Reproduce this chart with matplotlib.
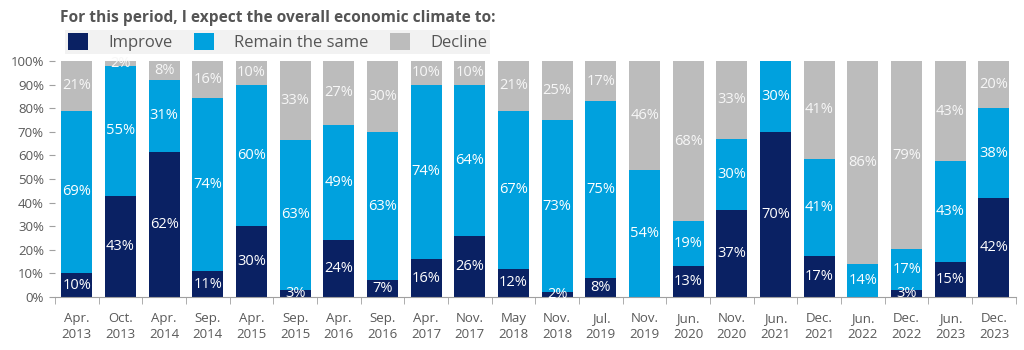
import numpy as np
import matplotlib.pyplot as plt
from matplotlib.patches import Patch

plt.rcParams['font.family'] = ['Open Sans', 'DejaVu Sans']

periods = ['Apr.\n2013', 'Oct.\n2013', 'Apr.\n2014', 'Sep.\n2014', 'Apr.\n2015', 'Sep.\n2015',
           'Apr.\n2016', 'Sep.\n2016', 'Apr.\n2017', 'Nov.\n2017', 'May\n2018', 'Nov.\n2018',
           'Jul.\n2019', 'Nov.\n2019', 'Jun.\n2020', 'Nov.\n2020', 'Jun.\n2021', 'Dec.\n2021',
           'Jun.\n2022', 'Dec.\n2022', 'Jun.\n2023', 'Dec.\n2023']
improve = [10, 43, 62, 11, 30, 3, 24, 7, 16, 26, 12, 2, 8, 0, 13, 37, 70, 17, 0, 3, 15, 42]
same = [69, 55, 31, 74, 60, 63, 49, 63, 74, 64, 67, 73, 75, 54, 19, 30, 30, 41, 14, 17, 43, 38]
decline = [21, 2, 8, 16, 10, 33, 27, 30, 10, 10, 21, 25, 17, 46, 68, 33, 0, 41, 86, 79, 43, 20]

series = [('Improve', improve, '#0a2163', 'white'),
          ('Remain the same', same, '#00a1de', 'white'),
          ('Decline', decline, '#bcbcbc', '#f7f7f7')]

# 100% stacked: scale each column so it sums to 100
totals = np.array(improve) + np.array(same) + np.array(decline)

fig = plt.figure(figsize=(10.24, 3.5), dpi=100)
ax = fig.add_axes([0.0537, 0.1514, 0.9383, 0.6743])

x = np.arange(len(periods))
bottom = np.zeros(len(periods))
for name, vals, col, tcol in series:
    h = np.array(vals) / totals * 100
    ax.bar(x, h, width=0.71, bottom=bottom, color=col, label=name)
    for xi, v, b, hh in zip(x, vals, bottom, h):
        if v > 0:
            ax.text(xi, b + hh / 2, f'{v}%', ha='center', va='center',
                    color=tcol, fontsize=10.5)
    bottom += h

ax.set_xlim(-0.5, len(periods) - 0.5)
ax.set_ylim(0, 100)
ax.set_yticks(range(0, 101, 10))
ax.set_yticklabels([f'{t}%' for t in range(0, 101, 10)], fontsize=9.5, color='#595959')
ax.set_xticks(x)
ax.set_xticklabels(periods, fontsize=9.5, color='#595959', linespacing=1.25)
ax.set_xticks(np.arange(-0.5, len(periods), 1), minor=True)
ax.tick_params(axis='x', which='major', length=0, pad=11)
ax.tick_params(axis='x', which='minor', length=5, color='#a0a0a0')
ax.tick_params(axis='y', length=4, color='#a0a0a0', pad=4)
for s in ['top', 'right', 'left']:
    ax.spines[s].set_visible(False)
ax.spines['bottom'].set_color('#a0a0a0')

fig.text(0.059, 0.95, 'For this period, I expect the overall economic climate to:',
         fontsize=11.2, fontweight='bold', color='#555555', va='center')

handles = [Patch(facecolor=c, label=n) for n, _, c, _ in series]
leg = fig.legend(handles=handles, loc='center left', bbox_to_anchor=(0.055, 0.88),
                 ncol=3, frameon=True, fontsize=12, handlelength=1.2, handleheight=1.2,
                 columnspacing=1.3, handletextpad=1.2, borderpad=0.2, fancybox=False)
leg.get_frame().set_facecolor('#efefef')
leg.get_frame().set_edgecolor('none')
for t in leg.get_texts():
    t.set_color('#555555')

fig.savefig('out.png', dpi=100)
